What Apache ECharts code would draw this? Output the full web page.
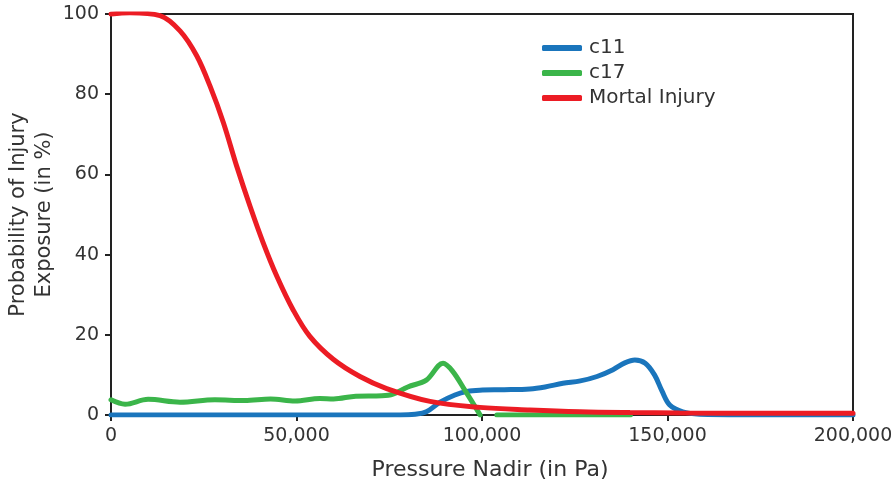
<!DOCTYPE html>
<html>
<head>
<meta charset="utf-8">
<script src="https://cdn.jsdelivr.net/npm/echarts@6/dist/echarts.min.js"></script>
<style>html,body{margin:0;padding:0;background:#fff}#c{width:891px;height:485px}</style>
</head>
<body>
<div id="c"></div>
<script>
// Data (x = pressure nadir in Pa, y = probability in %)
const c11 = [
  [0, 0], [20000, 0], [40000, 0], [60000, 0], [78000, 0], [82000, 0.2], [85000, 0.8],
  [88700, 3.2], [92700, 5.0], [96000, 5.9], [99400, 6.2], [106000, 6.3], [112900, 6.5],
  [117000, 7.0], [121800, 7.9], [126500, 8.5], [131000, 9.6], [135300, 11.3], [138500, 13.0],
  [141200, 13.7], [144000, 12.9], [146500, 10.0], [148500, 6.0], [150600, 2.5], [154100, 0.8],
  [158700, 0.2], [170000, 0], [200000, 0]
];
const c17 = [
  [0, 3.8], [3800, 2.7], [10000, 3.9], [18600, 3.2], [28000, 3.8], [36000, 3.6],
  [43000, 4.0], [49600, 3.5], [56300, 4.1], [60000, 4.0], [66000, 4.7], [73000, 4.8],
  [76000, 5.2], [80000, 7.0], [85000, 8.7], [89500, 12.9], [92000, 11.0], [95500, 6.0],
  [99500, 0], [100500, null], [104000, 0], [120000, 0], [140000, 0]
];
const mortal = [
  [0, 100], [5100, 100.3], [13200, 99.6], [18600, 95.8], [23100, 89.6], [26700, 82],
  [30300, 72.9], [33900, 62], [37500, 52], [41000, 43], [44700, 34.6], [49100, 26.2],
  [53600, 19.6], [59900, 13.9], [67100, 9.6], [74300, 6.6], [86000, 3.4], [99400, 1.9],
  [112900, 1.25], [126400, 0.8], [139900, 0.6], [153300, 0.5], [175000, 0.45], [200000, 0.45]
];
const xTicks = [0, 50000, 100000, 150000, 200000];
const yTicks = [0, 20, 40, 60, 80, 100];

const FONT = 'DejaVu Sans';
const TXT = '#333333';
const chart = echarts.init(document.getElementById('c'), null, {renderer: 'canvas'});
const mk = (name, data, color) => ({
  name, type: 'line', data, smooth: 0.35, showSymbol: false, connectNulls: false,
  lineStyle: {width: 5, color, cap: 'round'}, itemStyle: {color}
});
chart.setOption({
  animation: false,
  textStyle: {fontFamily: FONT, color: TXT},
  grid: {left: 111, right: 38, top: 14, bottom: 70, outerBoundsMode: 'none', containLabel: false,
    show: true, borderColor: '#222', borderWidth: 2, backgroundColor: 'transparent'},
  legend: {
    show: true, left: 537, top: 33, orient: 'vertical', itemGap: 5,
    itemWidth: 40, itemHeight: 6, icon: 'roundRect',
    textStyle: {fontFamily: FONT, fontSize: 20, color: TXT, padding: [0, 0, 0, 2]},
    data: ['c11', 'c17', 'Mortal Injury']
  },
  xAxis: {
    type: 'value', min: xTicks[0], max: xTicks[xTicks.length - 1], interval: 50000,
    name: 'Pressure Nadir (in Pa)', nameLocation: 'middle', nameGap: 44, nameMoveOverlap: false,
    nameTextStyle: {fontFamily: FONT, fontSize: 22, color: TXT, padding: [0, 0, 0, 16]},
    axisLine: {show: true, lineStyle: {color: '#222', width: 2}},
    axisTick: {show: true, length: 6, lineStyle: {color: '#222', width: 2}},
    axisLabel: {fontFamily: FONT, fontSize: 19, color: TXT, margin: 12,
      formatter: v => v.toLocaleString('en-US')},
    splitLine: {show: false}
  },
  yAxis: {
    type: 'value', min: yTicks[0], max: yTicks[yTicks.length - 1], interval: 20,
    name: 'Probability of Injury\nExposure (in %)', nameLocation: 'middle', nameGap: 53, nameMoveOverlap: false,
    nameTextStyle: {fontFamily: FONT, fontSize: 21, color: TXT, lineHeight: 26},
    axisLine: {show: true, lineStyle: {color: '#222', width: 2}},
    axisTick: {show: true, length: 6, lineStyle: {color: '#222', width: 2}},
    axisLabel: {fontFamily: FONT, fontSize: 19, color: TXT, margin: 12},
    splitLine: {show: false}
  },
  series: [
    mk('c11', c11, '#1a75bc'),
    mk('c17', c17, '#3bb54a'),
    mk('Mortal Injury', mortal, '#ec1c24')
  ]
});
</script>
</body>
</html>
